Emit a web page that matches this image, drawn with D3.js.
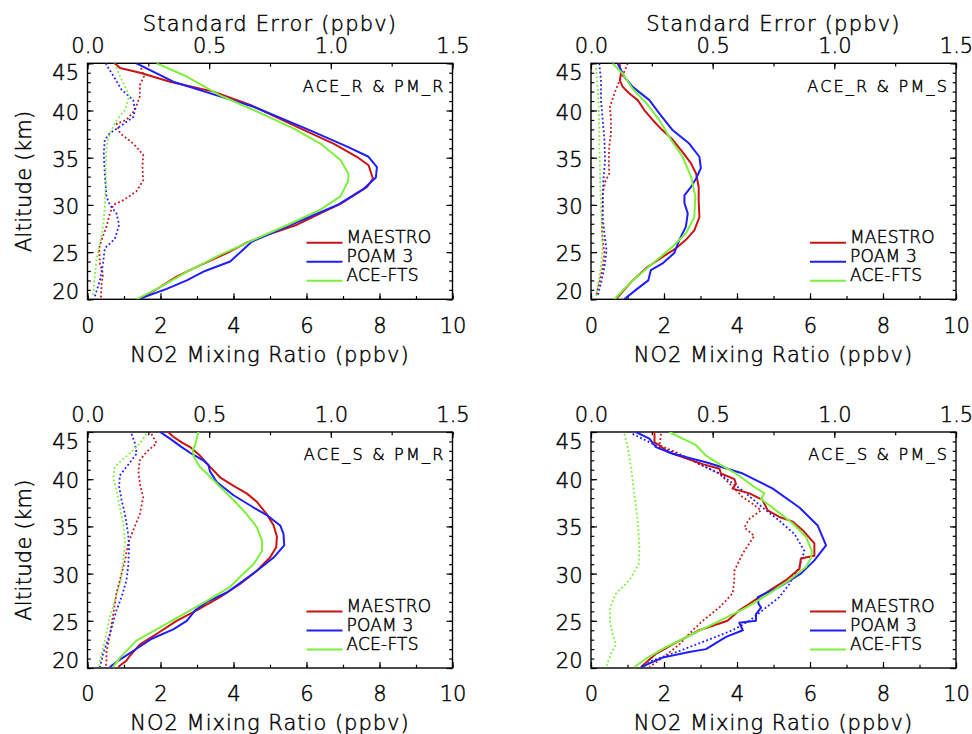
<!DOCTYPE html>
<html><head><meta charset="utf-8">
<script src="https://cdn.jsdelivr.net/npm/d3@7"></script>
<style>
body{margin:0;background:#fff}
text{font-family:"DejaVu Sans",sans-serif;fill:#000;font-weight:200;stroke:#000;stroke-width:0.45px}
</style>
</head><body><svg id="c" width="972" height="734"></svg>
<script>
// ---------- data (altitude km, value) ----------
const panelLabels = ["ACE_R & PM_R", "ACE_R & PM_S", "ACE_S & PM_R", "ACE_S & PM_S"];
const seriesNames = ["MAESTRO", "POAM 3", "ACE-FTS"];
const seriesColors = ["#c81414", "#1e1eff", "#7cf03c"];
const no2Ticks = [0, 2, 4, 6, 8, 10];
const seTicks = [0.0, 0.5, 1.0, 1.5];
const altTicks = [20, 25, 30, 35, 40, 45];

// Panel 1: ACE_R & PM_R
const TL_MAESTRO = [[45,0.75],[44.5,0.89],[44,1.44],[43.05,2.26],[42,3.45],[40.6,4.46],[38.1,5.83],[36.5,6.74],[35.1,7.38],[34.2,7.70],[32.8,7.82],[31.9,7.66],[30.1,6.93],[29.1,6.38],[27.9,5.74],[26.8,4.91],[26,4.36],[24.9,3.82],[23.6,3.08],[22.4,2.44],[21.3,1.99],[20,1.44]];
const TL_POAM = [[45,1.34],[43.05,2.35],[41.6,3.54],[40.4,4.55],[37.9,6.1],[36.2,7.1],[35.1,7.70],[34,7.93],[32.9,7.9],[31.7,7.57],[30.05,6.88],[28.9,6.19],[28,5.64],[26.1,4.5],[24,3.91],[23,3.22],[22,2.72],[21.1,2.17],[20,1.39]];
const TL_ACE = [[45,1.89],[43.6,2.72],[41.6,3.63],[40.05,4.55],[38.1,5.64],[36.5,6.38],[34.75,6.93],[33.3,7.15],[32.5,7.14],[30.9,6.93],[29.5,6.38],[28,5.55],[26.3,4.55],[24.7,3.63],[22.9,2.72],[21.3,1.99],[20,1.34]];
const TL_MAESTRO_SE = [[44.5,0.22],[43.6,0.232],[42.7,0.215],[41.5,0.215],[40.05,0.195],[39,0.16],[38.6,0.12],[37.6,0.133],[36.5,0.188],[35.3,0.229],[34,0.226],[32.6,0.229],[31.4,0.2],[30.5,0.147],[30,0.106],[29.1,0.092],[27.7,0.078],[26.3,0.058],[25.4,0.048],[23.8,0.051],[22.7,0.064],[21.7,0.058],[20.1,0.055]];
const TL_POAM_SE = [[45,0.075],[44.4,0.088],[43.6,0.108],[42.2,0.14],[41.1,0.188],[40.05,0.195],[39.3,0.188],[38.3,0.133],[37.6,0.092],[36.9,0.071],[35.5,0.067],[33.3,0.071],[31.9,0.075],[30.9,0.078],[30,0.092],[29.1,0.119],[27.9,0.13],[26.4,0.112],[25.4,0.071],[23.8,0.064],[22,0.051],[20.3,0.03]];
const TL_ACE_SE = [[45,0.112],[43.8,0.13],[42.5,0.155],[41.5,0.171],[40.05,0.154],[39,0.12],[37.6,0.092],[36.2,0.078],[34.4,0.075],[31.9,0.075],[29.8,0.071],[27.7,0.064],[25.9,0.051],[24.2,0.037],[22.4,0.03],[20.3,0.023]];

// Panel 2: ACE_R & PM_S
const TR_MAESTRO = [[45,0.78],[43.9,0.82],[43.2,0.79],[42.5,0.87],[41.8,1.05],[41.1,1.28],[40.05,1.46],[39,1.69],[37.9,1.96],[36.9,2.24],[35.6,2.51],[34.4,2.74],[33.3,2.88],[31.9,2.95],[30.5,2.95],[28.7,2.97],[27.3,2.83],[26.3,2.6],[25.4,2.33],[24.5,1.96],[23.3,1.51],[22,1.14],[20,0.68]];
const TR_POAM = [[45,0.73],[43.6,0.91],[42.5,1.14],[41.1,1.6],[39.7,1.87],[37.9,2.24],[36.5,2.69],[35.1,2.97],[33.9,3.01],[32.8,2.88],[31.9,2.74],[31,2.56],[30.2,2.56],[29.1,2.65],[27.7,2.6],[26.3,2.42],[24.9,2.28],[23.8,1.96],[23.1,1.64],[22,1.57],[21,1.23],[20,0.91]];
const TR_ACE = [[45,0.59],[43.9,0.87],[42.3,1.14],[40.8,1.51],[39,1.87],[36.9,2.19],[35.1,2.51],[33,2.74],[30.9,2.86],[28.7,2.83],[27,2.6],[25.6,2.24],[23.8,1.69],[22,1.14],[20,0.64]];
const TR_MAESTRO_SE = [[45,0.151],[44.1,0.137],[43.1,0.116],[41.8,0.096],[40.4,0.078],[39,0.082],[37.6,0.082],[36.2,0.075],[34.8,0.073],[33.3,0.075],[32.5,0.059],[31.2,0.048],[29.8,0.048],[27.7,0.045],[26.3,0.048],[24.9,0.055],[23.4,0.048],[21.7,0.034],[20.3,0.021]];
const TR_POAM_SE = [[45,0.034],[43.2,0.041],[41.1,0.041],[39,0.048],[36.9,0.055],[34.8,0.058],[32.6,0.051],[30.5,0.048],[28.7,0.048],[27,0.055],[25.2,0.064],[23.4,0.055],[21.7,0.041],[20.3,0.027]];
const TR_ACE_SE = [[44.5,0.021],[42.5,0.027],[40.4,0.032],[38.3,0.034],[36.2,0.034],[34,0.037],[31.9,0.038],[29.8,0.041],[27.7,0.045],[25.6,0.048],[23.4,0.041],[21.3,0.027],[20.3,0.021]];

// Panel 3: ACE_S & PM_R
const BL_MAESTRO = [[45,2.21],[44.5,2.35],[43.9,2.58],[43.4,2.81],[42.5,3.08],[41.3,3.36],[40.2,3.63],[39.3,4.0],[38.5,4.36],[37.6,4.64],[36.3,4.91],[35.1,5.1],[33.9,5.19],[32.8,5.17],[31.7,5.0],[30.3,4.64],[28.9,4.18],[27.5,3.63],[26.1,2.99],[25,2.44],[23.6,1.89],[22.5,1.44],[21.3,1.16],[20.8,1.07],[20.1,0.84]];
const BL_POAM = [[45,1.99],[44.3,2.26],[43.4,2.58],[42.7,2.85],[42,3.17],[41.5,3.31],[40.8,3.36],[39.7,3.54],[38.3,4.0],[37,4.55],[36.2,4.91],[35.1,5.28],[34.2,5.37],[33,5.39],[31.7,5.1],[30.3,4.64],[28,3.82],[27,3.27],[26.1,2.95],[25,2.72],[24.1,2.35],[23.1,1.76],[21.8,1.25],[21,0.93],[20.1,0.61]];
const BL_ACE = [[45,3.04],[44.3,2.99],[43.6,2.95],[43.1,2.88],[42.3,2.92],[41.3,3.08],[40.6,3.27],[39.2,3.63],[37.8,4.0],[36.3,4.36],[34.9,4.64],[33.5,4.78],[32.4,4.78],[31,4.55],[30,4.27],[28.6,3.91],[27.1,3.27],[25.7,2.63],[24.3,1.99],[22.9,1.34],[21.1,0.89],[20.1,0.70]];
const BL_MAESTRO_SE = [[44.8,0.263],[43.8,0.284],[42.9,0.243],[42,0.215],[40.9,0.209],[39.5,0.215],[38.1,0.229],[36.3,0.215],[34.6,0.188],[33.2,0.167],[31.4,0.154],[30,0.14],[27.9,0.119],[25.7,0.106],[23.6,0.092],[21.7,0.078],[20.8,0.078],[20.1,0.075]];
const BL_POAM_SE = [[44.8,0.181],[43.8,0.195],[42.7,0.202],[41.3,0.16],[40.4,0.133],[39.2,0.13],[37.8,0.14],[36.3,0.154],[34.2,0.167],[32.8,0.171],[30.7,0.167],[29.3,0.16],[27.5,0.14],[26.1,0.119],[23.6,0.092],[21.5,0.064],[20.1,0.051]];
const BL_ACE_SE = [[44.8,0.243],[43.8,0.215],[42.9,0.181],[42,0.14],[41.3,0.112],[40.2,0.106],[38.8,0.119],[37,0.133],[35.3,0.147],[33.2,0.154],[31.4,0.147],[29.3,0.136],[27.1,0.112],[25.4,0.092],[22.9,0.071],[20.8,0.051],[20.1,0.047]];

// Panel 4: ACE_S & PM_S
const BR_MAESTRO = [[45,1.74],[43.9,1.74],[43.6,1.87],[42.9,2.1],[42.2,2.6],[41.6,3.06],[41.1,3.52],[40.6,3.56],[40,3.93],[39.5,3.97],[39,3.88],[38.5,4.34],[37.8,4.7],[36.7,4.84],[36,5.16],[35.5,5.53],[34.6,5.8],[33.2,6.12],[31.9,6.12],[31.6,5.75],[30.5,5.71],[29.3,5.34],[28.2,4.89],[27.5,4.61],[26.8,4.34],[26.1,4.06],[25,3.74],[24,2.97],[22.5,2.24],[21.5,1.78],[20.1,1.37]];
const BR_POAM = [[45,1.23],[44.3,1.6],[43.4,1.78],[42.7,2.24],[41.8,3.15],[40.6,4.16],[39,4.98],[37,5.71],[35.1,6.21],[33,6.44],[31.4,6.12],[30,5.75],[28.6,5.16],[27.5,4.57],[26.8,4.59],[26.4,4.66],[25.7,4.52],[25,4.52],[24.8,4.06],[24,4.16],[23.3,3.7],[22,3.15],[21.7,2.69],[21.1,1.96],[20.1,1.37]];
const BR_ACE = [[45,2.15],[44.3,2.51],[43.6,2.88],[42.5,3.15],[41.6,3.52],[40.6,3.97],[39.3,4.43],[38.5,4.75],[37.9,4.66],[36.7,5.07],[35.3,5.53],[33.9,5.89],[32.4,6.05],[31.7,6.03],[30.7,5.89],[29.3,5.43],[27.9,4.89],[26.4,4.25],[25,3.52],[23.6,2.79],[22.2,2.05],[21,1.51],[20.1,1.19]];
const BR_MAESTRO_SE = [[44.8,0.288],[43.6,0.281],[42.7,0.363],[41.6,0.445],[40.6,0.527],[39.2,0.582],[38.1,0.623],[37.4,0.664],[36.7,0.699],[35.8,0.651],[34.9,0.63],[34,0.671],[32.1,0.623],[31.4,0.61],[30.3,0.589],[29.3,0.589],[27.9,0.582],[26.4,0.527],[25,0.459],[24,0.418],[22.5,0.363],[21.1,0.295],[20.1,0.24]];
const BR_POAM_SE = [[44.8,0.171],[43.4,0.281],[42.3,0.39],[40.6,0.527],[38.8,0.623],[37,0.705],[35.6,0.774],[34.2,0.836],[32.4,0.877],[30.7,0.856],[28.9,0.815],[27.5,0.774],[26.4,0.719],[25,0.651],[24,0.582],[22.9,0.473],[21.8,0.363],[20.8,0.253],[20.1,0.212]];
const BR_ACE_SE = [[44.8,0.137],[43.4,0.151],[41.3,0.164],[38.5,0.178],[35.6,0.192],[32.8,0.199],[31,0.196],[29.3,0.158],[27.9,0.103],[26.4,0.078],[25,0.078],[23.6,0.089],[22.5,0.103],[21.5,0.082],[20.1,0.062]];

// ---------- layout ----------
const W = 365, H = 236;
const panels = [
  {x0: 87.5, y0: 63.3, label: panelLabels[0], solid: [TL_MAESTRO, TL_POAM, TL_ACE], se: [TL_MAESTRO_SE, TL_POAM_SE, TL_ACE_SE], ytitle: true, ttitle: true},
  {x0: 591, y0: 63.3, label: panelLabels[1], solid: [TR_MAESTRO, TR_POAM, TR_ACE], se: [TR_MAESTRO_SE, TR_POAM_SE, TR_ACE_SE], ytitle: false, ttitle: true},
  {x0: 87.5, y0: 432, label: panelLabels[2], solid: [BL_MAESTRO, BL_POAM, BL_ACE], se: [BL_MAESTRO_SE, BL_POAM_SE, BL_ACE_SE], ytitle: true, ttitle: false},
  {x0: 591, y0: 432, label: panelLabels[3], solid: [BR_MAESTRO, BR_POAM, BR_ACE], se: [BR_MAESTRO_SE, BR_POAM_SE, BR_ACE_SE], ytitle: false, ttitle: false}
];

const svg = d3.select("#c");
svg.append("rect").attr("width", 972).attr("height", 734).attr("fill", "#fff");

const x = d3.scaleLinear().domain([0, 10]).range([0, W]);
const xs = d3.scaleLinear().domain([0, 1.5]).range([0, W]);
const y = d3.scaleLinear().domain([20, 45]).range([H, 0]);

const MAJ = 6, MIN = 3.3;

function styleAxis(g) {
  g.select(".domain").remove();
  g.selectAll("line").attr("stroke", "#000").attr("stroke-width", 1.2);
}

panels.forEach((p, pi) => {
  const g = svg.append("g").attr("transform", `translate(${p.x0},${p.y0})`);

  g.append("clipPath").attr("id", "clip" + pi)
    .append("rect").attr("width", W).attr("height", H);

  // minor ticks
  g.append("g").attr("transform", `translate(0,${H})`)
    .call(d3.axisBottom(x).tickValues(d3.range(0, 10.01, 1)).tickSize(-MIN).tickFormat(""))
    .call(styleAxis);
  g.append("g")
    .call(d3.axisTop(xs).tickValues(d3.range(0, 1.51, 0.25)).tickSize(-MIN).tickFormat(""))
    .call(styleAxis);
  g.append("g")
    .call(d3.axisLeft(y).tickValues(d3.range(20, 45.01, 1)).tickSize(-MIN).tickFormat(""))
    .call(styleAxis);
  g.append("g").attr("transform", `translate(${W},0)`)
    .call(d3.axisRight(y).tickValues(d3.range(20, 45.01, 1)).tickSize(-MIN).tickFormat(""))
    .call(styleAxis);

  // major ticks + labels
  const bx = g.append("g").attr("transform", `translate(0,${H})`)
    .call(d3.axisBottom(x).tickValues(no2Ticks).tickSize(-MAJ).tickFormat(d3.format("d")))
    .call(styleAxis);
  bx.selectAll("text").attr("y", 33.4).attr("dy", null)
    .attr("font-size", 21).attr("fill", "#000");

  const tx = g.append("g")
    .call(d3.axisTop(xs).tickValues(seTicks).tickSize(-MAJ).tickFormat(d3.format(".1f")))
    .call(styleAxis);
  tx.selectAll("text").attr("y", -10.4).attr("dy", null)
    .attr("font-size", 21).attr("fill", "#000");

  const ly = g.append("g")
    .call(d3.axisLeft(y).tickValues(altTicks).tickSize(-MAJ).tickFormat(d3.format("d")))
    .call(styleAxis);
  ly.selectAll("text").attr("x", -8.5).attr("dy", null)
    .attr("font-size", 21).attr("fill", "#000")
    .attr("dominant-baseline", "central")
    .attr("y", d => d === 45 ? 9 : (d === 20 ? -8 : 1.5));

  g.append("g").attr("transform", `translate(${W},0)`)
    .call(d3.axisRight(y).tickValues(altTicks).tickSize(-MAJ).tickFormat(""))
    .call(styleAxis);

  // box
  g.append("rect").attr("width", W).attr("height", H)
    .attr("fill", "none").attr("stroke", "#000").attr("stroke-width", 1.4);

  // data lines
  const plot = g.append("g").attr("clip-path", `url(#clip${pi})`);
  const lineNo2 = d3.line().x(d => x(d[1])).y(d => y(d[0]));
  const lineSe = d3.line().x(d => xs(d[1])).y(d => y(d[0]));
  p.se.forEach((s, i) => {
    plot.append("path").attr("d", lineSe(s)).attr("fill", "none")
      .attr("stroke", seriesColors[i]).attr("stroke-width", 1.8)
      .attr("stroke-dasharray", "1.8,2.4");
  });
  p.solid.forEach((s, i) => {
    plot.append("path").attr("d", lineNo2(s)).attr("fill", "none")
      .attr("stroke", seriesColors[i]).attr("stroke-width", 2)
      .attr("stroke-linejoin", "round");
  });

  // annotation
  g.append("text").attr("x", W - 7).attr("y", 28.4)
    .attr("text-anchor", "end").attr("font-size", 16)
    .attr("letter-spacing", 2.2).text(p.label);

  // legend
  seriesNames.forEach((n, i) => {
    const ly0 = 179.4 + i * 19;
    g.append("line").attr("x1", 219).attr("x2", 255).attr("y1", ly0).attr("y2", ly0)
      .attr("stroke", seriesColors[i]).attr("stroke-width", 2);
    g.append("text").attr("x", 259).attr("y", ly0 + 0.6)
      .attr("font-size", 17).attr("letter-spacing", 0.2).text(n);
  });

  // titles
  g.append("text").attr("x", W / 2).attr("y", H + 62.4)
    .attr("text-anchor", "middle").attr("font-size", 21).attr("letter-spacing", 1)
    .text("NO2 Mixing Ratio (ppbv)");
  if (p.ttitle) {
    g.append("text").attr("x", W / 2).attr("y", 31 - 63.3)
      .attr("text-anchor", "middle").attr("font-size", 21).attr("letter-spacing", 1.2)
      .text("Standard Error (ppbv)");
  }
  if (p.ytitle) {
    g.append("text").attr("transform", `translate(${30.5 - p.x0},${H / 2}) rotate(-90)`)
      .attr("text-anchor", "middle").attr("font-size", 21).attr("letter-spacing", 0.3)
      .text("Altitude (km)");
  }
});
</script></body></html>
